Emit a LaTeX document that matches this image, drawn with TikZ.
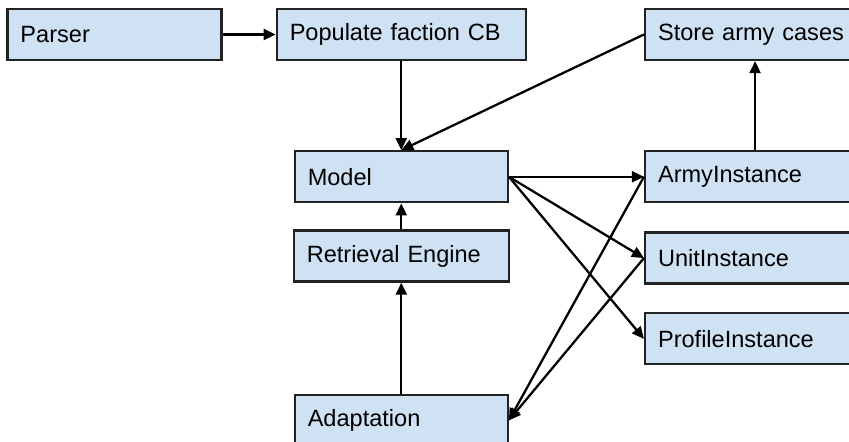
\documentclass[tikz,border=0pt]{standalone}
\usepackage{fontspec}
\setmainfont{Liberation Sans}
\usetikzlibrary{positioning,arrows.meta}
\definecolor{boxfill}{RGB}{207,226,243}
\definecolor{boxline}{RGB}{34,34,34}

\begin{document}
\begin{tikzpicture}[
        font=\fontsize{13.4}{16}\selectfont,
        box/.style={draw=boxline, fill=boxfill, line width=1.3pt, minimum height=1.02cm,
                    inner xsep=0.26cm, text width=#1, align=left},
        link/.style={draw=black, line width=1.3pt, -{Triangle[length=2.4mm,width=2.2mm]}},
    ]
            \useasboundingbox (-2.29,0.69) rectangle (14.69,-8.15);
                \node[box=3.76cm] (parser) at (0,0) {Parser};
                \node[box=4.46cm, right=1.06cm of parser] (populate) {Populate faction CB};
                \node[box=3.88cm, right=2.34cm of populate] (store) {Store army cases};
                \node[box=3.74cm, below=1.78cm of populate] (model) {Model};
                \node[box=3.78cm, below=0.52cm of model] (retrieval) {Retrieval Engine};
                \node[box=3.74cm, below=2.22cm of retrieval] (adaptation) {Adaptation};
                \node[box=3.88cm, right=2.7cm of model] (army) {ArmyInstance};
                \node[box=3.88cm, below=0.56cm of army] (unit) {UnitInstance};
                \node[box=3.88cm, below=0.55cm of unit] (profile) {ProfileInstance};

                \draw[link] (parser) -- (populate);
                \draw[link] (populate) -- (model);
                \draw[link] (store.west) -- (model.north);
                \draw[link] (retrieval) -- (model);
                \draw[link] (adaptation) -- (retrieval);
                \draw[link] (army) -- (store);
                \draw[link] (model.east) -- (army.west);
                \draw[link] (model.east) -- (unit.west);
                \draw[link] (model.east) -- (profile.west);
                \draw[link] (army.west) -- (adaptation.east);
                \draw[link] (unit.west) -- (adaptation.east);
        \end{tikzpicture}
\end{document}
